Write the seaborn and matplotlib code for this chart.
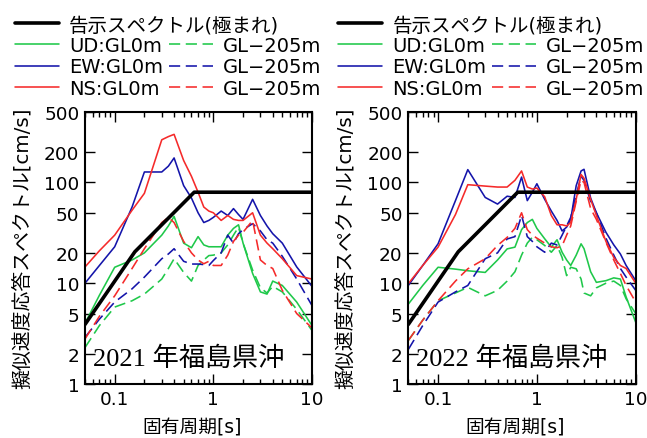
import numpy as np
import pandas as pd
import matplotlib
matplotlib.use("Agg")
import matplotlib.pyplot as plt
import seaborn as sns
from matplotlib.lines import Line2D
from matplotlib.ticker import FixedLocator, NullLocator, NullFormatter, LogLocator

# ---------------- data ----------------
periods_2021 = [0.05, 0.07, 0.1, 0.15, 0.2, 0.3, 0.35, 0.4, 0.5, 0.6, 0.7, 0.8, 0.9,
                1.0, 1.2, 1.4, 1.6, 1.8, 2.0, 2.5, 3.0, 3.5, 4.0, 5.0, 7.0, 10.0]
ud_gl0_2021 = [4.0, 7.6, 14.4, 17, 20, 30, 37, 46, 25, 22.5, 29, 24, 23,
               23, 23, 30, 35, 38, 25, 12.5, 8.2, 7.8, 10.5, 9.5, 6.5, 3.8]
ew_gl0_2021 = [10, 15, 23, 57, 127, 127, 145, 175, 93, 70, 50, 40, 42,
               45, 52, 47, 55, 48, 43, 68, 47, 37, 31, 25, 14.5, 9.3]
ns_gl0_2021 = [14.5, 21, 30, 53, 78, 265, 285, 300, 165, 115, 80, 57, 52,
               50, 42, 47, 43, 42, 42, 50, 30, 25, 22, 17.5, 11.9, 11]
ud_gl205_2021 = [2.3, 3.8, 5.8, 6.7, 7.8, 11, 14, 17.5, 12.8, 10.5, 15, 17, 18.8,
                 19, 20, 24, 30, 36, 25, 13.5, 9, 8, 9.3, 8.2, 5.5, 3.4]
ew_gl205_2021 = [2.9, 4.4, 6.5, 8.8, 11.5, 17.5, 19.5, 22, 16.5, 15.5, 15.5, 15.3, 15,
                 16.8, 20, 30, 25, 31, 34, 39, 33, 27, 25, 18.5, 11, 6]
ns_gl205_2021 = [2.8, 4.7, 7.5, 14, 22, 40, 45, 40, 26, 20, 17, 15.6, 16.5,
                 15, 15, 19, 26, 30, 32, 42, 17, 15, 14, 8.5, 5, 3.6]

periods_2022 = [0.05, 0.07, 0.1, 0.15, 0.2, 0.3, 0.4, 0.5, 0.6, 0.7, 0.8, 0.9, 1.0,
                1.2, 1.4, 1.6, 1.8, 2.0, 2.2, 2.5, 2.8, 3.0, 3.5, 4.0, 5.0, 6.0, 7.0, 8.0, 10.0]
ud_gl0_2022 = [6.2, 9.5, 14.4, 13.8, 13.3, 12.8, 17, 21.9, 22.8, 34, 40, 43, 35,
               27.6, 22.8, 27, 20.3, 17, 15, 19, 24.6, 22, 13, 10.2, 10.6, 11.3, 11, 7.3, 4.1]
ew_gl0_2022 = [9.5, 15, 24.6, 66, 134, 71, 61, 73, 71, 113, 66, 80, 97,
               68, 52, 42, 33, 36, 43, 93, 130, 135, 70, 50, 32, 24, 19.5, 15, 10.6]
ns_gl0_2022 = [9.9, 15, 22.8, 48, 95, 92, 90, 90, 105, 130, 90, 86, 88,
               72, 47, 38, 38, 37, 40, 68, 120, 110, 68, 47, 26, 18, 15, 14, 10]
ud_gl205_2022 = [2.7, 4.3, 6.7, 8, 9.1, 7.5, 8.5, 10.5, 13, 19, 25, 28.6, 27,
                 23.7, 20.3, 23.7, 18, 11.9, 14.4, 13.9, 11, 8, 7.5, 9, 10, 10.5, 9.5, 7, 5]
ew_gl205_2022 = [2.2, 3.8, 6.5, 8.2, 9.5, 17.5, 20, 27.5, 29, 47, 29, 26, 23,
                 20.3, 25, 24, 30, 37, 45, 75, 115, 105, 65, 50, 28, 19, 14, 11.5, 8.5]
ns_gl205_2022 = [2.7, 4.3, 6.7, 10.5, 13.9, 17.5, 23.7, 28.5, 35, 50, 34, 30, 28,
                 25, 23, 22.5, 23.5, 30, 37, 65, 105, 100, 55, 43, 25.5, 17, 12.5, 9.5, 6.5]

code_periods = [0.05, 0.16, 0.64, 10.0]
code_values = [3.9, 20.5, 80, 80]

components = ["UD", "EW", "NS"]
depths = ["GL0m", "GL−205m"]
panel_titles = ["2021 年福島県沖", "2022 年福島県沖"]
code_label = "告示スペクトル(極まれ)"
solid_labels = ["UD:GL0m", "EW:GL0m", "NS:GL0m"]
dashed_label = "GL−205m"
x_label = "固有周期[s]"
y_label = "擬似速度応答スペクトル[cm/s]"
x_ticks = [0.1, 1, 10]
x_tick_labels = ["0.1", "1", "10"]
y_ticks = [1, 2, 5, 10, 20, 50, 100, 200, 500]
y_tick_labels = ["1", "2", "5", "10", "20", "50", "100", "200", "500"]

# ---------------- style ----------------
colors = {"UD": "#1fc84a", "EW": "#1414aa", "NS": "#f52a2a"}
dash_pat = (7, 3.5)
sns.set_style("ticks")
plt.rcParams["font.family"] = ["DejaVu Sans", "Noto Sans CJK JP"]
plt.rcParams["axes.unicode_minus"] = True
for key in ["text.color", "axes.labelcolor", "xtick.color", "ytick.color",
            "axes.edgecolor", "legend.labelcolor"]:
    plt.rcParams[key] = "black"


def long_frame(periods, series):
    rows = []
    for (comp, depth), vals in series.items():
        for p, v in zip(periods, vals):
            rows.append({"period": p, "value": v, "component": comp, "depth": depth})
    return pd.DataFrame(rows)


panels = [
    (periods_2021, {("UD", "GL0m"): ud_gl0_2021, ("EW", "GL0m"): ew_gl0_2021,
                    ("NS", "GL0m"): ns_gl0_2021, ("UD", "GL−205m"): ud_gl205_2021,
                    ("EW", "GL−205m"): ew_gl205_2021, ("NS", "GL−205m"): ns_gl205_2021}),
    (periods_2022, {("UD", "GL0m"): ud_gl0_2022, ("EW", "GL0m"): ew_gl0_2022,
                    ("NS", "GL0m"): ns_gl0_2022, ("UD", "GL−205m"): ud_gl205_2022,
                    ("EW", "GL−205m"): ew_gl205_2022, ("NS", "GL−205m"): ns_gl205_2022}),
]

W, H = 647, 439
fig = plt.figure(figsize=(W / 100, H / 100), dpi=100)
axes_px = [(85, 227), (408.3, 227.4)]
ax_bottom, ax_h = 54, 272

for i, ((periods, series), (left, width)) in enumerate(zip(panels, axes_px)):
    ax = fig.add_axes([left / W, ax_bottom / H, width / W, ax_h / H])
    df = long_frame(periods, series)
    sns.lineplot(data=df, x="period", y="value", hue="component", style="depth",
                 palette=colors, hue_order=components, style_order=depths,
                 dashes={"GL0m": "", "GL−205m": dash_pat},
                 estimator=None, sort=False, legend=False, linewidth=1.15, ax=ax)
    sns.lineplot(x=code_periods, y=code_values, color="black", linewidth=2.6,
                 estimator=None, sort=False, legend=False, ax=ax, zorder=5)
    ax.set_xscale("log")
    ax.set_yscale("log")
    ax.set_xlim(0.05, 10)
    ax.set_ylim(1, 500)
    ax.xaxis.set_major_locator(FixedLocator(x_ticks))
    ax.set_xticklabels(x_tick_labels)
    ax.xaxis.set_minor_locator(LogLocator(base=10, subs=np.arange(2, 10)))
    ax.xaxis.set_minor_formatter(NullFormatter())
    ax.yaxis.set_major_locator(FixedLocator(y_ticks))
    ax.set_yticklabels(y_tick_labels)
    ax.yaxis.set_minor_locator(NullLocator())
    ax.tick_params(which="both", direction="in", top=True, right=True,
                   labelsize=13.3, width=1.0, color="black", labelcolor="black")
    ax.tick_params(which="major", length=7, pad=4)
    ax.tick_params(which="minor", length=3.5)
    for sp in ax.spines.values():
        sp.set_linewidth(1.5)
        sp.set_color("black")
    ax.set_xlabel(x_label, fontsize=13.5, color="black")
    ax.set_ylabel(y_label, fontsize=14.3, color="black")
    ax.xaxis.set_label_coords(107 / 227, -0.125)
    ax.yaxis.set_label_coords(-53 / width, 0.504)
    ax.text(0.035, 0.095, panel_titles[i], transform=ax.transAxes,
            family=["Liberation Serif", "Noto Sans CJK JP"], fontsize=19,
            color="black", ha="left", va="center", zorder=6)

    # legends above each panel
    off = left - 85
    fs = 14.0
    fpx = fs * 100 / 72
    h_code = [Line2D([], [], color="black", lw=2.6)]
    fig.legend(h_code, [code_label], loc="upper left",
               bbox_to_anchor=((15 + off) / W, 1 - 16 / H), frameon=False,
               fontsize=fs, handlelength=44 / fpx, handletextpad=10 / fpx,
               borderpad=0, borderaxespad=0, labelcolor="black")
    hs = [Line2D([], [], color=colors[c], lw=1.15) for c in components]
    hd = [Line2D([], [], color=colors[c], lw=1.15, ls=(0, dash_pat)) for c in components]
    fig.legend(hs + hd, solid_labels + [dashed_label] * 3, loc="upper left",
               ncol=2, bbox_to_anchor=((15 + off) / W, 1 - 37 / H), frameon=False,
               fontsize=fs, handlelength=44 / fpx, handletextpad=10 / fpx,
               columnspacing=6 / fpx, labelspacing=0.12,
               borderpad=0, borderaxespad=0, labelcolor="black")

fig.savefig("out.png", dpi=100)
